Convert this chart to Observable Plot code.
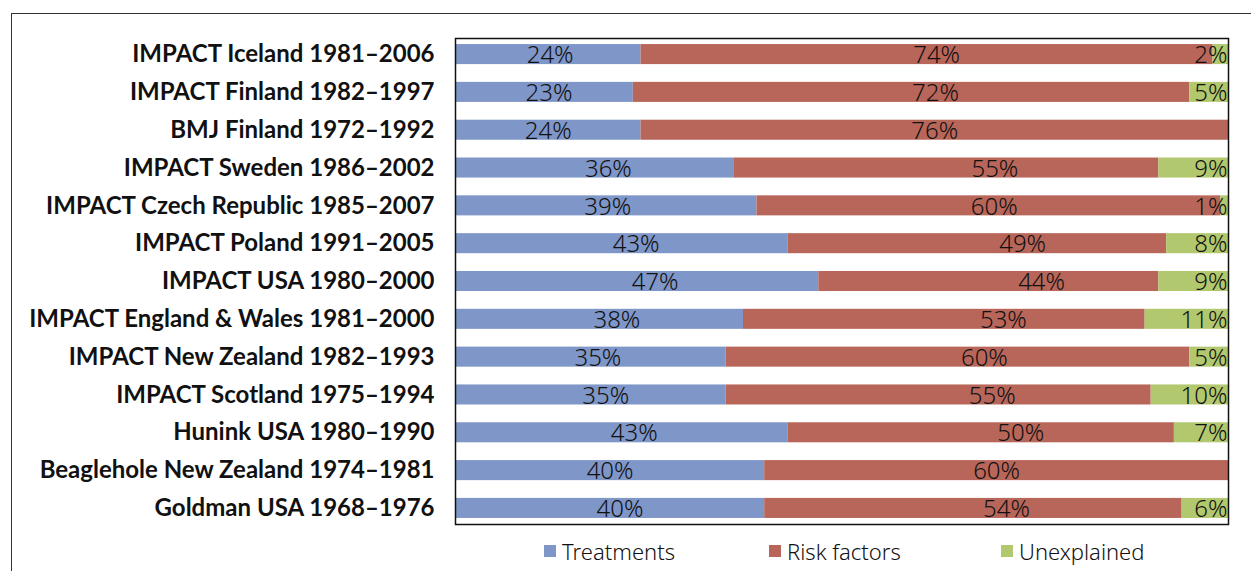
<!DOCTYPE html>
<html>
<head>
<meta charset="utf-8">
<script src="https://cdn.jsdelivr.net/npm/d3@7"></script>
<script src="https://cdn.jsdelivr.net/npm/@observablehq/plot@0.6"></script>
<style>
  html, body { margin: 0; padding: 0; background: #fff; }
  #wrap { position: relative; width: 1251px; height: 571px; overflow: hidden; }
  #frame { position: absolute; left: 11px; top: 13px; width: 1300px; height: 600px;
           border-top: 1.5px solid #333; border-left: 1.5px solid #333; box-sizing: border-box; }
  #chart { position: absolute; left: 0; top: 0; }
  #legend { position: absolute; top: 538px; left: 0; width: 1251px; height: 30px;
            font-family: "Noto Sans", sans-serif; font-weight: 300;
            font-size: 22px; color: #111; }
  .item { position: absolute; top: 0; height: 30px; }
  .sw { position: absolute; left: 0; top: 7px; width: 12px; height: 12px; }
  .lbl { position: absolute; left: 18px; top: -2px; white-space: nowrap; }
</style>
</head>
<body>
<div id="wrap">
  <div id="frame"></div>
  <div id="chart"></div>
  <div id="legend"></div>
</div>
<script>
const studies = [
  "IMPACT Iceland 1981–2006",
  "IMPACT Finland 1982–1997",
  "BMJ Finland 1972–1992",
  "IMPACT Sweden 1986–2002",
  "IMPACT Czech Republic 1985–2007",
  "IMPACT Poland 1991–2005",
  "IMPACT USA 1980–2000",
  "IMPACT England & Wales 1981–2000",
  "IMPACT New Zealand 1982–1993",
  "IMPACT Scotland 1975–1994",
  "Hunink USA 1980–1990",
  "Beaglehole New Zealand 1974–1981",
  "Goldman USA 1968–1976"
];
const treatments  = [24, 23, 24, 36, 39, 43, 47, 38, 35, 35, 43, 40, 40];
const riskFactors = [74, 72, 76, 55, 60, 49, 44, 53, 60, 55, 50, 60, 54];
const unexplained = [ 2,  5,  0,  9,  1,  8,  9, 11,  5, 10,  7,  0,  6];
const seriesNames = ["Treatments", "Risk factors", "Unexplained"];
const seriesColors = ["#7F96C8", "#B9665A", "#B2C86E"];

const rows = [];
studies.forEach((s, i) => {
  rows.push({study: s, series: seriesNames[0], value: treatments[i]});
  rows.push({study: s, series: seriesNames[1], value: riskFactors[i]});
  rows.push({study: s, series: seriesNames[2], value: unexplained[i]});
});
const valueFont = `"Noto Sans", sans-serif`;

const stackOpts = {x: "value", y: "study", z: "series", order: seriesNames, offset: "normalize"};

const chart = Plot.plot({
  width: 1251,
  height: 540,
  marginLeft: 455,
  marginRight: 23,
  marginTop: 38,
  marginBottom: 16,
  style: {fontFamily: `Lato, sans-serif`, background: "transparent", color: "#111"},
  x: {axis: null, domain: [0, 1]},
  y: {domain: studies, paddingInner: 0.47, paddingOuter: 0.16, round: false, label: null},
  color: {domain: seriesNames, range: seriesColors},
  marks: [
    Plot.barX(rows, Plot.stackX({...stackOpts, fill: "series"})),
    Plot.text(rows.filter(d => d.series !== "Unexplained" && d.value > 0),
      Plot.stackX({...stackOpts, text: d => d.value + "%", fontSize: 24,
        fontFamily: valueFont, fontWeight: 300, fill: "#111", dy: 1})),
    Plot.text(rows, Plot.stackX2({...stackOpts,
      filter: d => d.series === "Unexplained" && d.value > 0,
      text: d => d.value + "%", fontSize: 24, fontFamily: valueFont, fontWeight: 300,
      fill: "#111", textAnchor: "end", dx: -1, dy: 1})),
    Plot.axisY({tickSize: 0, tickPadding: 21, fontSize: 24, fontWeight: "bold",
      fontFamily: `Lato, sans-serif`, label: null}),
    Plot.frame({stroke: "#111", strokeWidth: 1.5})
  ]
});
document.getElementById("chart").appendChild(chart);

const legend = document.getElementById("legend");
const legendX = [544, 769, 1001];
seriesNames.forEach((name, i) => {
  const it = document.createElement("div");
  it.className = "item";
  it.style.left = legendX[i] + "px";
  const sw = document.createElement("div");
  sw.className = "sw";
  sw.style.background = seriesColors[i];
  const t = document.createElement("span");
  t.className = "lbl";
  t.textContent = name;
  it.appendChild(sw); it.appendChild(t);
  legend.appendChild(it);
});
</script>
</body>
</html>
